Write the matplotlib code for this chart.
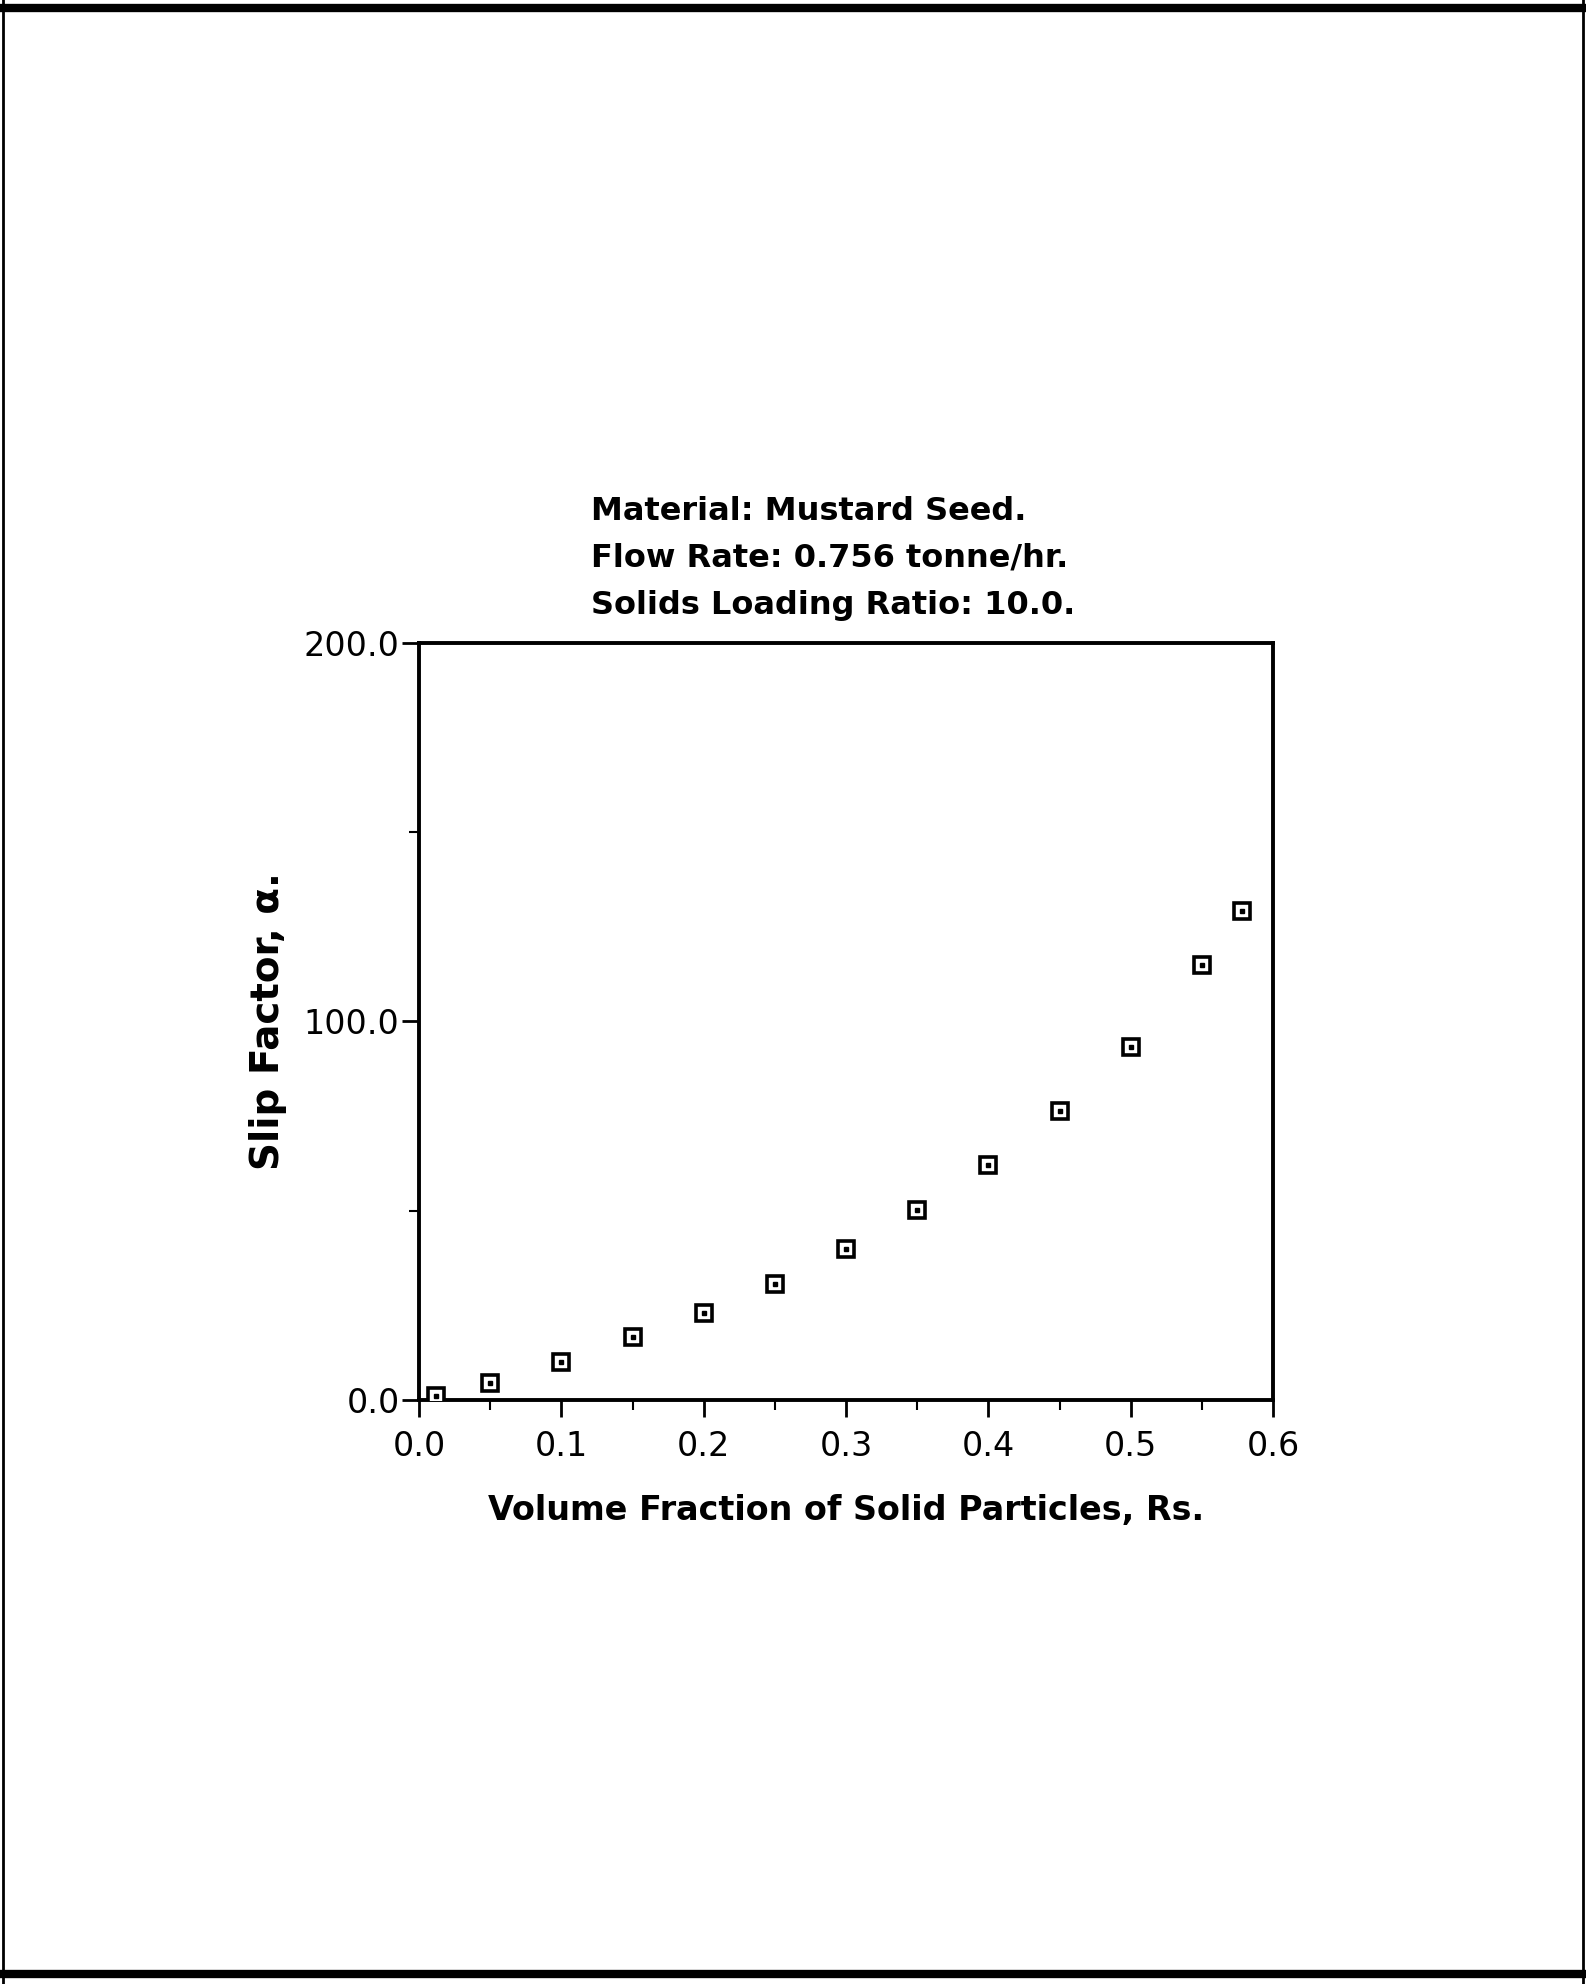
import matplotlib.pyplot as plt
from matplotlib.ticker import MultipleLocator, FormatStrFormatter
from matplotlib.lines import Line2D

# volume fraction of solids vs slip factor, mustard seed run
vol_frac = [0.012, 0.05, 0.10, 0.15, 0.20, 0.25, 0.30, 0.35, 0.40, 0.45, 0.50, 0.55, 0.578]
slip = [1.1, 4.5, 10.1, 16.6, 23.0, 30.5, 39.9, 50.3, 62.2, 76.4, 93.2, 115.0, 129.1]

title_lines = ["Material: Mustard Seed.",
               "Flow Rate: 0.756 tonne/hr.",
               "Solids Loading Ratio: 10.0."]
xlabel = "Volume Fraction of Solid Particles, Rs."
ylabel = "Slip Factor, \u03b1."

font = ["DejaVu Sans"]


def main():
    fig = plt.figure(figsize=(15.86, 19.84), dpi=100)
    ax = fig.add_axes([0.2642, 0.2944, 0.5385, 0.3815])

    ax.plot(vol_frac, slip, linestyle="none", marker="s", markersize=11,
            markerfacecolor="white", markeredgecolor="black", markeredgewidth=2.6,
            zorder=3)
    ax.plot(vol_frac, slip, linestyle="none", marker="s", markersize=2.4,
            color="black", zorder=4)

    ax.set_xlim(0, 0.6)
    ax.set_ylim(0, 200)
    ax.xaxis.set_major_locator(MultipleLocator(0.1))
    ax.xaxis.set_minor_locator(MultipleLocator(0.05))
    ax.yaxis.set_major_locator(MultipleLocator(100))
    ax.yaxis.set_minor_locator(MultipleLocator(50))
    ax.xaxis.set_major_formatter(FormatStrFormatter("%.1f"))
    ax.yaxis.set_major_formatter(FormatStrFormatter("%.1f"))

    for s in ax.spines.values():
        s.set_linewidth(2.8)
    ax.tick_params(which="major", direction="out", length=12, width=2, labelsize=24)
    ax.tick_params(which="minor", direction="out", length=7, width=1.5)
    ax.tick_params(axis="x", which="major", pad=10)
    ax.tick_params(axis="y", which="major", pad=2)

    ax.set_xlabel(xlabel, fontsize=24, fontweight="bold", family=font, labelpad=22)
    ax.set_ylabel(ylabel, fontsize=28, fontweight="bold", family=font, labelpad=12)

    for i, line in enumerate(title_lines):
        fig.text(0.3725, 0.742 - i * 0.0235, line, fontsize=23, fontweight="bold",
                 family=font, ha="left", va="center")

    # scanned page frame: heavy top and bottom, thin sides
    frame = [((0.0, 1.0), (0.996, 0.996), 6),
             ((0.0, 1.0), (0.005, 0.005), 6),
             ((0.002, 0.002), (0.0, 1.0), 2),
             ((0.998, 0.998), (0.0, 1.0), 2)]
    for xs, ys, lw in frame:
        fig.add_artist(Line2D(xs, ys, transform=fig.transFigure, color="black", linewidth=lw))

    fig.savefig("out.png", dpi=100, facecolor="white")


if __name__ == "__main__":
    main()
